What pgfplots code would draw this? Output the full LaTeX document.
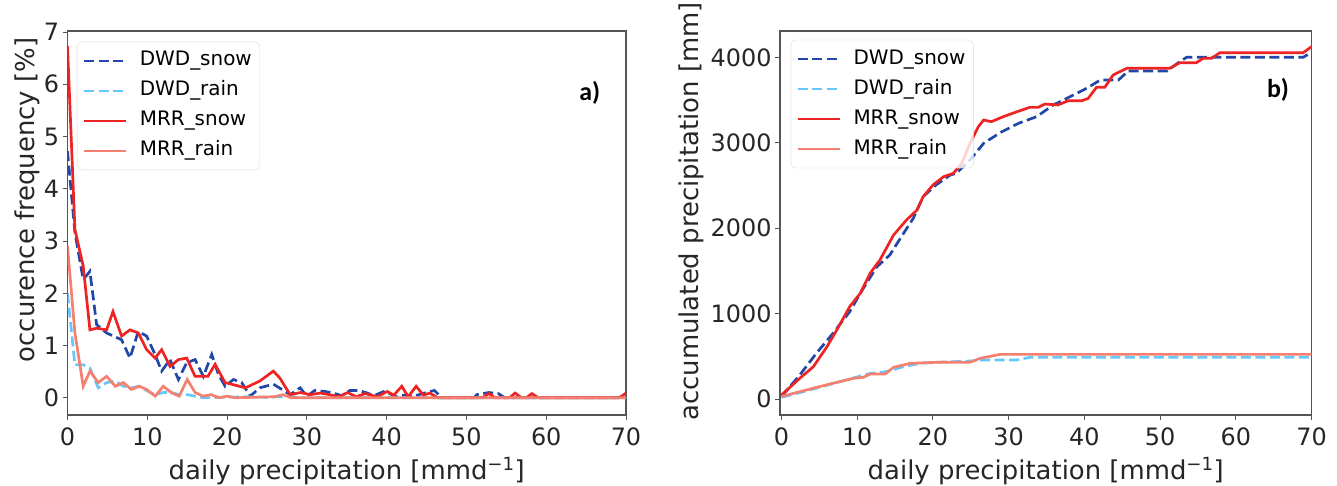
\documentclass[border=0pt]{standalone}
\usepackage{fontspec}
\setmainfont{DejaVu Sans}
\newfontfamily\carlito{Carlito}
\usepackage{pgfplots}
\pgfplotsset{compat=1.18}
\definecolor{dwdsnow}{RGB}{33,72,168}
\definecolor{dwdrain}{RGB}{102,200,250}
\definecolor{mrrsnow}{RGB}{238,36,36}
\definecolor{mrrrain}{RGB}{245,128,112}
\definecolor{framegray}{RGB}{85,85,85}
\pgfplotsset{
 mystyle/.style={
  scale only axis,
  axis line style={framegray, line width=1.2bp},
  tick style={framegray, line width=1bp},
  major tick length=5bp,
  tick align=outside,
  tick pos=left,
  /pgf/number format/assume math mode=true,
  /pgf/number format/1000 sep={},
  tick label style={font=\fontsize{24}{24}\selectfont, text=black!85},
  xticklabel style={yshift=-4bp},
  label style={font=\fontsize{26}{28}\selectfont, text=black!85},
  legend cell align=left,
  legend image code/.code={\draw[##1] (0bp,0bp) -- (42bp,0bp);},
  legend style={draw=black!15, rounded corners=5bp, fill=white, fill opacity=0.8, text opacity=1, draw opacity=1,
    font=\fontsize{20}{22}\selectfont, inner xsep=5.5bp, inner ysep=5.5bp, row sep=3bp,
    nodes={inner sep=2.5bp, text height=16bp, text depth=6bp},
    /tikz/every odd column/.append style={column sep=10bp}},
  every axis plot/.append style={line width=2.7bp},
 },
 dwds/.style={dwdsnow, dash pattern=on 10bp off 4.5bp},
 dwdr/.style={dwdrain, dash pattern=on 10bp off 4.5bp},
 mrrs/.style={mrrsnow},
 mrrr/.style={mrrrain},
}
\begin{document}
\begin{tikzpicture}
\path[use as bounding box] (0,0) rectangle (1337bp,486bp);
\begin{axis}[mystyle, at={(67.5bp,71bp)}, anchor=south west, width=558.5bp, height=384bp,
  xmin=0, xmax=70, ymin=-0.33, ymax=7.02, xtick={0,10,...,70}, ytick={0,1,...,7},
  ylabel={occurence frequency [\%]}, xlabel={daily precipitation [mmd\textsuperscript{−1}]},
  ylabel style={at={(axis description cs:-0.072,0.56)}, anchor=center},
  xlabel style={at={(axis description cs:0.5,-0.167)}, anchor=base},
  legend style={at={(0.017,0.972)}, anchor=north west}]
\addplot[dwds] coordinates {(0,4.72)(0.93,3.16)(1.97,2.26)(2.81,2.42)(3.65,1.40)(4.9,1.24)(6.78,1.11)(7.83,0.76)(8.87,1.27)(9.92,1.18)(10.97,0.83)(11.8,0.51)(12.85,0.73)(13.9,0.35)(14.94,0.67)(15.99,0.73)(17.03,0.41)(18.08,0.83)(18.91,0.45)(19.75,0.22)(20.8,0.35)(21.84,0.29)(22.9,0.03)(24.1,0.19)(25.8,0.26)(26.86,0.16)(27.9,0.06)(29.16,0.19)(30,0.03)(31,0.14)(32.3,0.12)(33.3,0.09)(34.4,0.04)(35.4,0.14)(36.4,0.14)(37.4,0.1)(38.4,0.04)(39.8,0.13)(41.1,0.02)(42.2,0.05)(43.2,0.02)(44.5,0.08)(46,0.14)(46.9,0)(51,0)(51.3,0.06)(52.8,0.1)(54,0.08)(54.8,0)(69,0)(70,0.05)};
\addlegendentry{DWD\_snow}
\addplot[dwdr] coordinates {(0,2.0)(0.93,0.63)(1.97,0.63)(2.81,0.57)(3.85,0.19)(4.9,0.29)(6,0.32)(7,0.22)(8,0.19)(9,0.22)(10,0.13)(11,0.06)(12,0.1)(13,0.1)(14,0.06)(15,0.06)(16,0.03)(17,0)(22,0.02)(25,0.01)(28,0.03)(29,0)(70,0)};
\addlegendentry{DWD\_rain}
\addplot[mrrs] coordinates {(0,6.73)(0.93,3.22)(1.97,2.52)(2.81,1.30)(3.65,1.33)(4.9,1.30)(5.7,1.65)(6.78,1.18)(7.83,1.30)(8.87,1.24)(9.92,0.92)(10.97,0.76)(11.8,0.92)(12.85,0.60)(13.9,0.73)(14.94,0.76)(15.99,0.41)(17.6,0.41)(18.5,0.64)(19.75,0.29)(20.8,0.25)(22.3,0.19)(24.1,0.32)(25.8,0.51)(26.6,0.38)(27.9,0.06)(29.2,0.1)(30.4,0.06)(31.7,0.09)(32.8,0.06)(34,0.02)(35.1,0.1)(36.2,0.02)(37.3,0.08)(38.8,0.02)(40.1,0.12)(40.9,0.05)(41.9,0.22)(42.7,0.02)(43.7,0.22)(44.6,0.05)(45.4,0.09)(46.4,0)(52,0)(52.8,0.08)(53.6,0)(55.4,0)(56.1,0.09)(56.9,0)(57.5,0)(58.2,0.08)(59,0)(69.2,0)(70,0.09)};
\addlegendentry{MRR\_snow}
\addplot[mrrr] coordinates {(0,2.9)(0.93,1.24)(1.97,0.22)(2.81,0.51)(3.85,0.29)(4.9,0.41)(6,0.22)(7,0.29)(8,0.16)(9,0.22)(9.9,0.16)(11,0.03)(12,0.22)(13,0.1)(14,0.03)(15,0.35)(16,0.1)(17,0.03)(18,0.06)(19,0)(20,0.03)(21,0)(26,0.02)(27,0.06)(28,0)(70,0)};
\addlegendentry{MRR\_rain}
\node[font=\carlito\bfseries\fontsize{26}{26}\selectfont] at (rel axis cs:0.935,0.839) {a)};
\end{axis}
\begin{axis}[mystyle, at={(780bp,71bp)}, anchor=south west, width=531.5bp, height=384bp,
  xmin=-0.2, xmax=70, ymin=-187, ymax=4309, xtick={0,10,...,70}, ytick={0,1000,...,4000},
  ylabel={accumulated precipitation [mm]}, xlabel={daily precipitation [mmd\textsuperscript{−1}]},
  ylabel style={at={(axis description cs:-0.167,0.53)}, anchor=center},
  xlabel style={at={(axis description cs:0.5,-0.167)}, anchor=base},
  legend style={at={(0.02,0.977)}, anchor=north west}]
\addplot[dwds] coordinates {(0,30)(2.4,280)(4.6,535)(6.8,769)(9,1022)(10.8,1296)(12.6,1549)(14.3,1686)(15.7,1882)(17.4,2116)(18.7,2369)(20.4,2506)(22.3,2623)(23.1,2643)(24.9,2799)(26.7,2994)(28.9,3120)(31.3,3228)(33.7,3306)(35.9,3443)(38.1,3540)(40.3,3638)(42.1,3735)(44.5,3735)(45.8,3841)(50.9,3841)(52.6,3950)(53.5,4001)(68.9,4001)(70,4060)};
\addlegendentry{DWD\_snow}
\addplot[dwdr] coordinates {(0,20)(2.9,86)(7.7,203)(11.7,300)(13.7,320)(16.1,378)(18.3,418)(20.5,430)(24.9,445)(26.7,457)(31.1,457)(32.8,488)(70,488)};
\addlegendentry{DWD\_rain}
\addplot[mrrs] coordinates {(0,47)(2.4,242)(4.2,378)(6,612)(7.3,808)(9,1081)(10.4,1238)(11.7,1472)(13,1628)(14.8,1920)(16.5,2096)(17.9,2213)(18.7,2369)(20,2506)(21.4,2603)(22.7,2643)(23.8,2760)(24.9,2994)(26,3189)(26.7,3267)(27.7,3247)(29.3,3306)(31.1,3364)(32.8,3415)(33.9,3415)(34.8,3454)(36.5,3443)(37.9,3493)(39.7,3493)(40.5,3520)(41.6,3650)(42.7,3650)(43.8,3794)(45.6,3872)(51.3,3872)(52.6,3938)(54.8,3938)(55.7,3989)(56.8,3989)(57.9,4055)(68.9,4055)(70,4125)};
\addlegendentry{MRR\_snow}
\addplot[mrrr] coordinates {(0,30)(2.9,97)(6.4,176)(9.5,242)(10.8,254)(11.7,293)(13.7,293)(14.8,371)(17,418)(20.5,430)(24.9,430)(26.2,476)(28.9,523)(70,523)};
\addlegendentry{MRR\_rain}
\node[font=\carlito\bfseries\fontsize{26}{26}\selectfont] at (rel axis cs:0.937,0.846) {b)};
\end{axis}
\end{tikzpicture}
\end{document}
